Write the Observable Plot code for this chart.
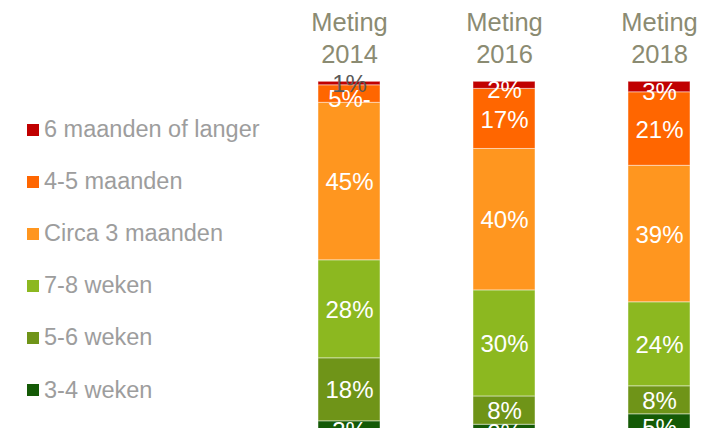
<!DOCTYPE html>
<html>
<head>
<meta charset="utf-8">
<script src="https://cdn.jsdelivr.net/npm/d3@7"></script>
<script src="https://cdn.jsdelivr.net/npm/@observablehq/plot@0.6"></script>
<style>
  html, body { margin: 0; padding: 0; background: #fff; width: 704px; height: 428px; overflow: hidden; }
  #wrap { position: relative; width: 704px; height: 428px; font-family: "Liberation Sans", Arial, sans-serif; }
  #chart { position: absolute; left: 0; top: 0; }
  #legend { position: absolute; left: 27px; top: 103.5px; }
  .item { display: flex; align-items: center; height: 52.1px; color: #9d9d9d; font-size: 23.5px; white-space: nowrap; }
  .sw { width: 12px; height: 12px; margin-right: 5px; flex: none; }
</style>
</head>
<body>
<div id="wrap">
  <div id="chart"></div>
  <div id="legend"></div>
</div>
<script>
const years = ["2014", "2016", "2018"];
const categories = ["3-4 weken", "5-6 weken", "7-8 weken", "Circa 3 maanden", "4-5 maanden", "6 maanden of langer"];
const v2014 = [3, 18, 28, 45, 5, 1];
const v2016 = [2, 8, 30, 40, 17, 2];
const v2018 = [5, 8, 24, 39, 21, 3];
const colors = ["#145a06", "#6f9418", "#8cb820", "#ff961f", "#ff6600", "#c00000"];
const labelSuffix = {"2014|4-5 maanden": "-"};

const series = {"2014": v2014, "2016": v2016, "2018": v2018};
const data = [];
for (const y of years) {
  categories.forEach((c, i) => data.push({year: y, cat: c, value: series[y][i]}));
}
const lab = d => d.value + "%" + (labelSuffix[d.year + "|" + d.cat] || "");

const stack = (opts) => Plot.stackY({x: "year", y: "value", z: "cat", offset: "normalize", ...opts});

const plot = Plot.plot({
  width: 704,
  height: 428,
  marginLeft: 304,
  marginRight: 0,
  marginTop: 81,
  marginBottom: 0,
  style: {fontFamily: "Liberation Sans, Arial, sans-serif", background: "transparent", overflow: "visible"},
  x: {domain: years, paddingInner: 0.6, paddingOuter: 0.09, label: null},
  y: {domain: [0, 1], range: [431.3, 81.3], axis: null},
  color: {domain: categories, range: colors},
  marks: [
    Plot.barY(data, stack({fill: "cat", stroke: "white", strokeOpacity: 0.45, strokeWidth: 1})),
    Plot.text(data, stack({text: d => d.value > 5 ? lab(d) : null, fill: "white", fontSize: 24, dy: 1})),
    Plot.text(data, stack({text: d => (d.value > 1 && d.value <= 5) ? lab(d) : null, fill: "white", fontSize: 24, dy: 5})),
    Plot.text(data, stack({text: d => d.value <= 1 ? lab(d) : null, fill: "#595959", fontSize: 24, dy: 1})),
    Plot.axisX({anchor: "top", tickSize: 0, tickPadding: 19, fontSize: 25.5, lineHeight: 1.25, fill: "#8b8b72", label: null,
      tickFormat: d => "Meting\n" + d})
  ]
});
document.getElementById("chart").appendChild(plot);

const legend = document.getElementById("legend");
for (let i = categories.length - 1; i >= 0; i--) {
  const it = document.createElement("div");
  it.className = "item";
  const sw = document.createElement("span");
  sw.className = "sw";
  sw.style.background = colors[i];
  const tx = document.createElement("span");
  tx.textContent = categories[i];
  it.appendChild(sw);
  it.appendChild(tx);
  legend.appendChild(it);
}
</script>
</body>
</html>
